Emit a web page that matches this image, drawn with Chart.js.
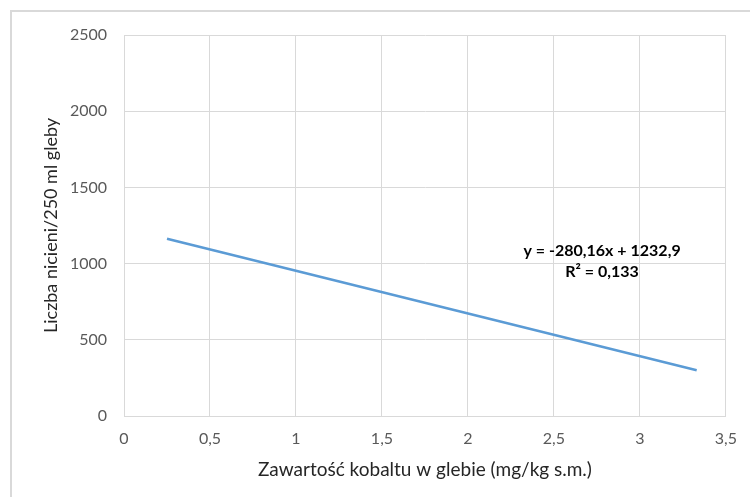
<!DOCTYPE html>
<html>
<head>
<meta charset="utf-8">
<script src="https://cdn.jsdelivr.net/npm/chart.js@4.4.1/dist/chart.umd.min.js"></script>
<style>
  html, body { margin: 0; padding: 0; background: #fff; overflow: hidden; }
  #wrap { position: relative; width: 750px; height: 497px; }
  #frame {
    position: absolute; left: 10px; top: 10px; width: 800px; height: 600px;
    border: 2px solid #d9d9d9; box-sizing: border-box; pointer-events: none;
  }
</style>
</head>
<body>
<div id="wrap">
  <canvas id="chart" width="750" height="497"></canvas>
  <div id="frame"></div>
</div>
<script>
// trendline (start and end of the drawn line)
const trendX = [0.25, 3.33];
const trendY = [1163, 300];

const xTicks = [0, 0.5, 1, 1.5, 2, 2.5, 3, 3.5];
const yTicks = [0, 500, 1000, 1500, 2000, 2500];

const eqLines = ["y = -280,16x + 1232,9", "R\u00b2 = 0,133"];

const FONT = "Lato, 'Open Sans', sans-serif";

// equation label drawn next to the trendline
const equationPlugin = {
  id: "equation",
  afterDatasetsDraw(chart, args, opts) {
    const { ctx, scales } = chart;
    const px = scales.x.getPixelForValue(opts.x);
    const py = scales.y.getPixelForValue(opts.y);
    ctx.save();
    ctx.font = "bold 16px " + FONT;
    ctx.fillStyle = "#000";
    ctx.textAlign = "center";
    ctx.textBaseline = "middle";
    eqLines.forEach((line, i) => {
      ctx.fillText(line, px, py + i * 21);
    });
    ctx.restore();
  },
};

const fmt = (v) => String(v).replace(".", ",");

new Chart(document.getElementById("chart"), {
  type: "scatter",
  data: {
    datasets: [
      {
        label: "Trend",
        data: trendX.map((x, i) => ({ x: x, y: trendY[i] })),
        showLine: true,
        borderColor: "#5b9bd5",
        borderWidth: 2.5,
        pointRadius: 0,
        fill: false,
      },
    ],
  },
  options: {
    responsive: false,
    animation: false,
    layout: { padding: { left: 0, top: 35, right: 21, bottom: 0 } },
    plugins: {
      legend: { display: false },
      tooltip: { enabled: false },
      equation: { x: 2.78, y: 1083 },
    },
    scales: {
      x: {
        type: "linear",
        min: 0,
        max: 3.5,
        afterBuildTicks: (s) => { s.ticks = xTicks.map((v) => ({ value: v })); },
        afterFit: (s) => { s.height = 81; },
        grid: { color: "#d9d9d9", drawTicks: false },
        border: { color: "#d9d9d9" },
        ticks: {
          color: "#595959",
          font: { family: FONT, size: 16 },
          padding: 13,
          callback: fmt,
        },
        title: {
          display: true,
          text: "Zawartość kobaltu w glebie (mg/kg s.m.)",
          color: "#262626",
          font: { family: FONT, size: 19 },
          padding: { top: 0, bottom: 16 },
        },
      },
      y: {
        type: "linear",
        min: 0,
        max: 2500,
        afterBuildTicks: (s) => { s.ticks = yTicks.map((v) => ({ value: v })); },
        afterFit: (s) => { s.width = 124; },
        grid: { color: "#d9d9d9", drawTicks: false },
        border: { color: "#d9d9d9" },
        ticks: {
          color: "#595959",
          font: { family: FONT, size: 16 },
          padding: 17,
          callback: fmt,
        },
        title: {
          display: true,
          text: "Liczba nicieni/250 ml gleby",
          color: "#262626",
          font: { family: FONT, size: 18 },
          padding: { top: 40, bottom: 0 },
        },
      },
    },
  },
  plugins: [equationPlugin],
});
</script>
</body>
</html>
